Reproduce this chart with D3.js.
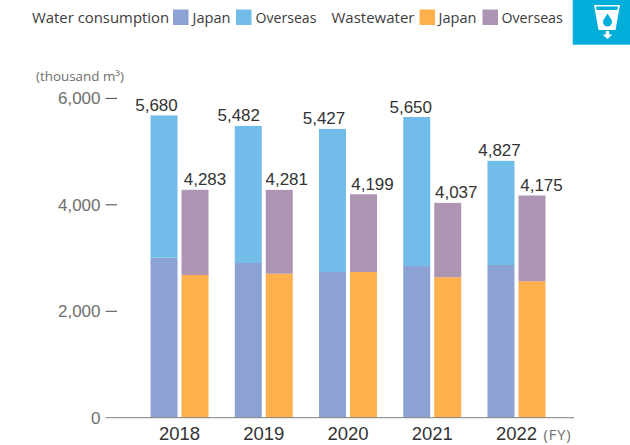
<!DOCTYPE html>
<html><head><meta charset="utf-8">
<script src="https://cdn.jsdelivr.net/npm/d3@7"></script>
<style>html,body{margin:0;padding:0;background:#fff}svg{display:block}</style></head>
<body><svg id="c" width="630" height="445"></svg>
<script>
const years = ["2018","2019","2020","2021","2022"];
const waterJapan = [3006,2907,2738,2850,2869];
const waterOverseas = [2674,2575,2689,2800,1958];
const wasteJapan = [2681,2706,2738,2640,2565];
const wasteOverseas = [1602,1575,1461,1397,1610];
const waterTotal = [5680,5482,5427,5650,4827];
const wasteTotal = [4283,4281,4199,4037,4175];
const yTicks = [0,2000,4000,6000];
const colors = {waterJapan:"#8ba2d3",waterOverseas:"#71bce9",wasteJapan:"#fdb04c",wasteOverseas:"#ae94b3"};
const waterLabelDx = [-7.5,-9.5,-8.5,-6,-1.5];
const wasteLabelDx = [10,7.5,9,8.5,9.5];
const legendItems = [
 {t:"Water consumption",x:32,fs:14.9},
 {c:colors.waterJapan,x:173},{t:"Japan",x:192.5,fs:14.6},
 {c:colors.waterOverseas,x:236},{t:"Overseas",x:255.5,fs:14.1},
 {t:"Wastewater",x:331.5,fs:15},
 {c:colors.wasteJapan,x:419.5},{t:"Japan",x:438.5,fs:14.6},
 {c:colors.wasteOverseas,x:482.5},{t:"Overseas",x:501.5,fs:14.2}
];
const svg = d3.select("#c");
const y = d3.scaleLinear().domain([0,6000]).range([417.7,98.4]);
const x0 = d3.scaleBand().domain(years).range([137.4,558.6]);
const x1 = d3.scaleBand().domain(["water","waste"]).range([150.5,208.5]).paddingInner(4/31);
const off = s => x0.bandwidth()/2 - 29 + (x1(s)-150.5);
const num = "'Liberation Sans',Arial,sans-serif", lab = "'Open Sans','Noto Sans',sans-serif";
function stack(key,low,high,cl,ch){
  years.forEach((yr,i)=>{
    const X = x0(yr)+off(key), w = x1.bandwidth();
    svg.append("rect").attr("x",X).attr("width",w).attr("y",y(low[i])).attr("height",y(0)-y(low[i])).attr("fill",cl);
    svg.append("rect").attr("x",X).attr("width",w).attr("y",y(low[i]+high[i])).attr("height",y(low[i])-y(low[i]+high[i])).attr("fill",ch);
  });
}
stack("water",waterJapan,waterOverseas,colors.waterJapan,colors.waterOverseas);
stack("waste",wasteJapan,wasteOverseas,colors.wasteJapan,colors.wasteOverseas);
const fmt = d3.format(",");
years.forEach((yr,i)=>{
  [["water",waterTotal[i],waterLabelDx[i]],["waste",wasteTotal[i],wasteLabelDx[i]]].forEach(([k,v,dx])=>{
    svg.append("text").attr("x",x0(yr)+off(k)+x1.bandwidth()/2+dx).attr("y",y(v)-4.5)
      .attr("text-anchor","middle").attr("font-family",num).attr("font-size",17).attr("fill","#333").text(fmt(v));
  });
  svg.append("text").attr("x",x0(yr)+x0.bandwidth()/2).attr("y",440).attr("text-anchor","middle")
    .attr("font-family",num).attr("font-size",18.5).attr("fill","#333").text(yr);
});
svg.append("line").attr("x1",105.7).attr("x2",574).attr("y1",y(0)).attr("y2",y(0)).attr("stroke","#808080").attr("stroke-width",1);
yTicks.forEach(t=>{
  svg.append("text").attr("x",100.5).attr("y",y(t)+6).attr("text-anchor","end")
    .attr("font-family",num).attr("font-size",17).attr("fill","#6e6e6e").text(fmt(t));
  if(t>0) svg.append("line").attr("x1",105.7).attr("x2",117).attr("y1",y(t)).attr("y2",y(t)).attr("stroke","#444").attr("stroke-width",1);
});
svg.append("text").attr("x",36).attr("y",80.5).attr("font-family",lab).attr("font-size",13.4).attr("fill","#6e6e6e").text("(thousand m³)");
svg.append("text").attr("x",543.5).attr("y",439.5).attr("font-family",lab).attr("font-size",14.5).attr("letter-spacing",1).attr("fill","#6e6e6e").text("(FY)");
legendItems.forEach(d=>{
  if(d.c) svg.append("rect").attr("x",d.x).attr("y",9.5).attr("width",15.5).attr("height",15.5).attr("fill",d.c);
  else svg.append("text").attr("x",d.x).attr("y",23).attr("font-family",lab).attr("font-size",d.fs).attr("fill","#3c3c3c").text(d.t);
});
const g = svg.append("g");
g.append("rect").attr("x",572.7).attr("y",0).attr("width",57.3).attr("height",44.7).attr("fill","#00aed9");
g.append("path").attr("fill","#fff").attr("d","M594 5H620L615.5 30H598.5Z");
g.append("path").attr("fill","#00aed9").attr("d","M596 6.5H618L617.4 10H596.6Z");
g.append("path").attr("fill","#00aed9").attr("d","M607.5 13.5C609.5 17 612 19.5 612 22A4.5 4.5 0 0 1 603 22C603 19.5 605.5 17 607.5 13.5Z");
g.append("path").attr("fill","#fff").attr("d","M605.8 31H609.2V34.5H612.5L607.5 39L602.5 34.5H605.8Z");
</script></body></html>
